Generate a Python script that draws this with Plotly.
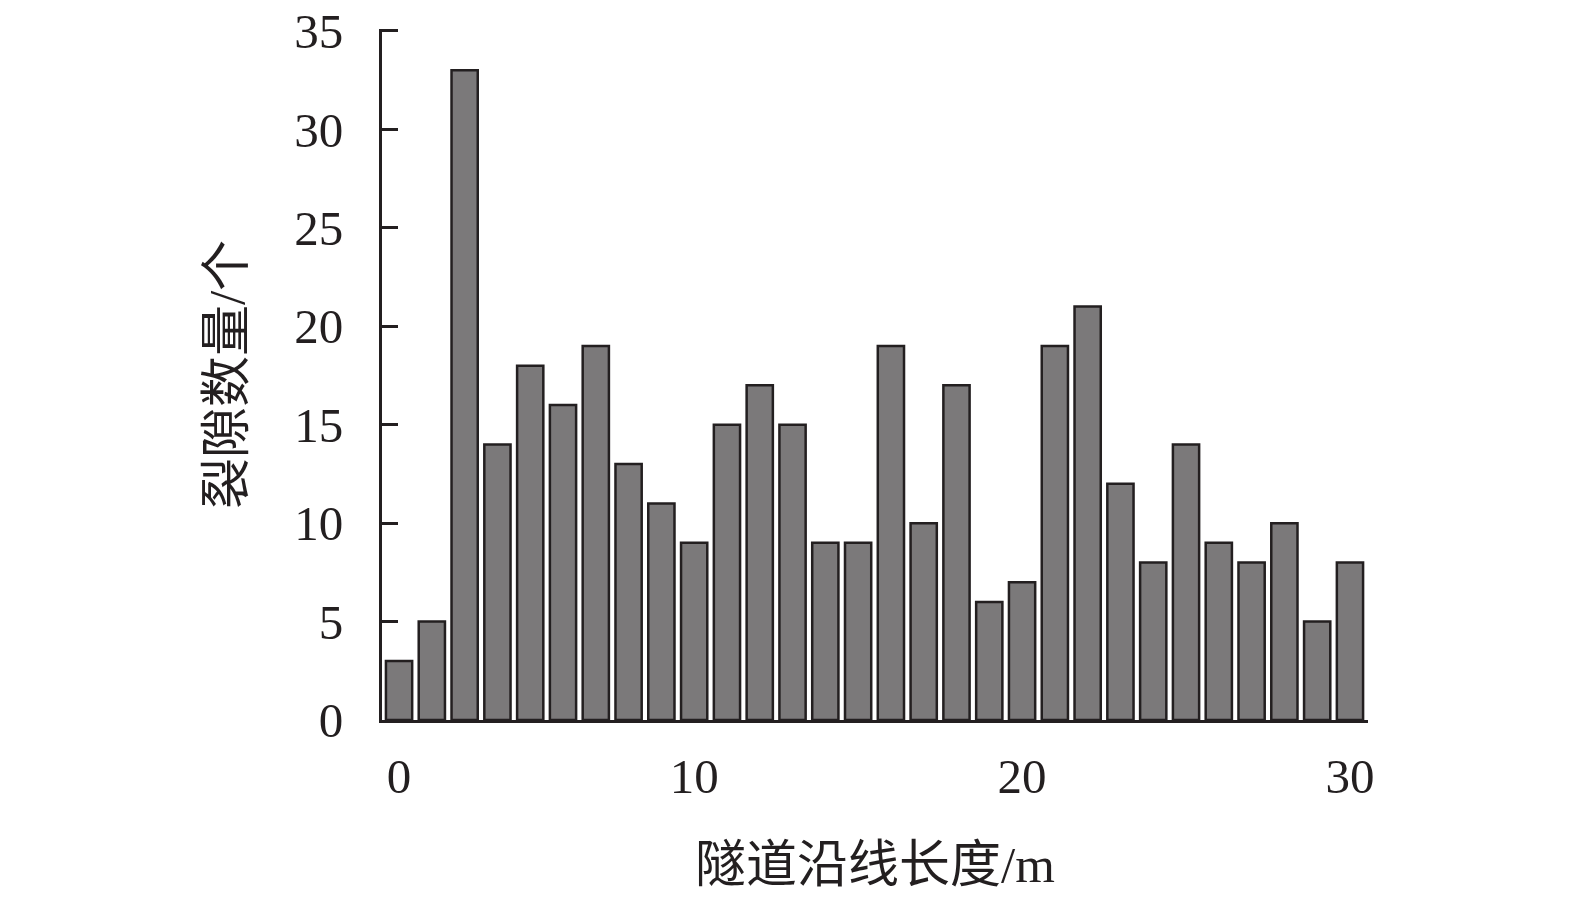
import plotly.graph_objects as go

positions = list(range(1, 31))
counts = [3, 5, 33, 14, 18, 16, 19, 13, 11, 9, 15, 17, 15, 9, 9, 19, 10, 17, 6, 7,
          19, 21, 12, 8, 14, 9, 8, 10, 5, 8]
x_tickvals = [1, 10, 20, 30]
x_ticktext = ["0", "10", "20", "30"]
y_tickvals = [0, 5, 10, 15, 20, 25, 30, 35]

FONT = "Liberation Serif, Noto Sans CJK SC, serif"
INK = "#231f20"

fig = go.Figure(go.Bar(
    x=positions, y=counts, width=0.8,
    marker=dict(color="#7b797a", line=dict(color=INK, width=2.5)),
))

fig.update_layout(
    width=1575, height=898,
    margin=dict(l=374, r=215, t=21, b=186),
    plot_bgcolor="white", paper_bgcolor="white",
    showlegend=False,
    font=dict(family=FONT, size=49, color=INK),
)
fig.update_xaxes(
    range=[0.48, 30.55], tickvals=x_tickvals, ticktext=x_ticktext,
    showline=True, linecolor=INK, linewidth=3, ticks="", showgrid=False, zeroline=False,
    ticklabelstandoff=11, automargin=False, ticklabeloverflow="allow",
    title=dict(text="隧道沿线长度/m", font=dict(size=51), standoff=44),
)
fig.update_yaxes(
    range=[0, 35.1], tickvals=y_tickvals,
    showline=True, linecolor=INK, linewidth=3, ticks="inside", ticklen=16, tickwidth=3,
    tickcolor=INK, showgrid=False, zeroline=False,
    ticklabelstandoff=26, automargin=False, ticklabeloverflow="allow",
    title=dict(text="裂隙数量/个", font=dict(size=51), standoff=34),
)

fig.write_html("out.html")
